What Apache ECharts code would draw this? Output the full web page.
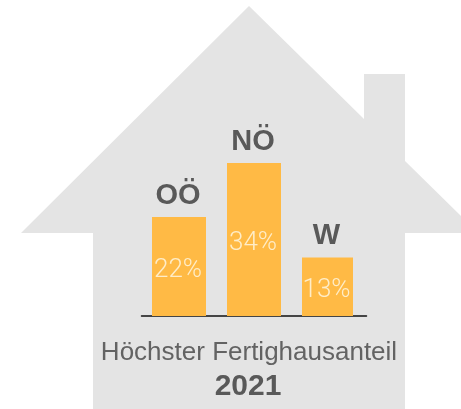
<!DOCTYPE html>
<html><head><meta charset="utf-8">
<style>html,body{margin:0;padding:0;background:#fff}#c{width:461px;height:409px}</style>
<script src="https://cdn.jsdelivr.net/npm/echarts@6/dist/echarts.min.js"></script>
</head><body><div id="c"></div>
<script>
const categories = ['OÖ','NÖ','W'];
const valuesWide = [22,34,null];
const valuesNarrow = [null,null,13];
const heading = 'Höchster Fertighausanteil';
const year = '2021';
const chart = echarts.init(document.getElementById('c'),null,{renderer:'canvas'});
const valueLabel = {show:true,position:'inside',offset:[-1,4],formatter:'{c}%',color:'#ffedc8',
  fontFamily:'Roboto',fontWeight:300,fontSize:26};
const nameLabel = {show:true,position:'top',distance:7,offset:[-1,0],formatter:'{b}',color:'#595959',
  fontFamily:'Liberation Sans',fontWeight:'bold',fontSize:29};
const barStyle = {color:'#FFBA45'};
chart.setOption({
  animation:false,
  backgroundColor:'#fff',
  grid:{left:141.5,right:94.5,top:10,bottom:93,containLabel:false},
  xAxis:{type:'category',data:categories,offset:1,axisTick:{show:false},axisLabel:{show:false},
    axisLine:{show:true,lineStyle:{color:'#111',width:1.5}}},
  yAxis:{type:'value',min:0,max:68,show:false,splitLine:{show:false}},
  graphic:[{type:'polygon',z:-10,silent:true,
    shape:{points:[[21,233],[249,6],[364,119],[364,74],[405,74],[405,161],[461,216],[461,233],[405,233],[405,409],[93,409],[93,233]]},
    style:{fill:'#E4E4E4'}}],
  title:[
    {text:heading,left:249,top:340,padding:0,textAlign:'center',textStyle:{color:'#636363',fontFamily:'Liberation Sans',fontWeight:'normal',fontSize:26}},
    {text:year,left:248,top:372,padding:0,textAlign:'center',textStyle:{color:'#595959',fontFamily:'Liberation Sans',fontWeight:'bold',fontSize:30}}
  ],
  series:[
    {type:'bar',name:'b',data:valuesNarrow,barWidth:51,barGap:'-100%',itemStyle:barStyle,label:valueLabel},
    {type:'bar',name:'a',data:valuesWide,barWidth:54,barGap:'-100%',itemStyle:barStyle,label:valueLabel},
    {type:'bar',name:'n2',data:valuesNarrow,barWidth:51,barGap:'-100%',itemStyle:{color:'transparent'},label:nameLabel},
    {type:'bar',name:'n1',data:valuesWide,barWidth:54,barGap:'-100%',itemStyle:{color:'transparent'},label:nameLabel}
  ]
});
</script></body></html>
